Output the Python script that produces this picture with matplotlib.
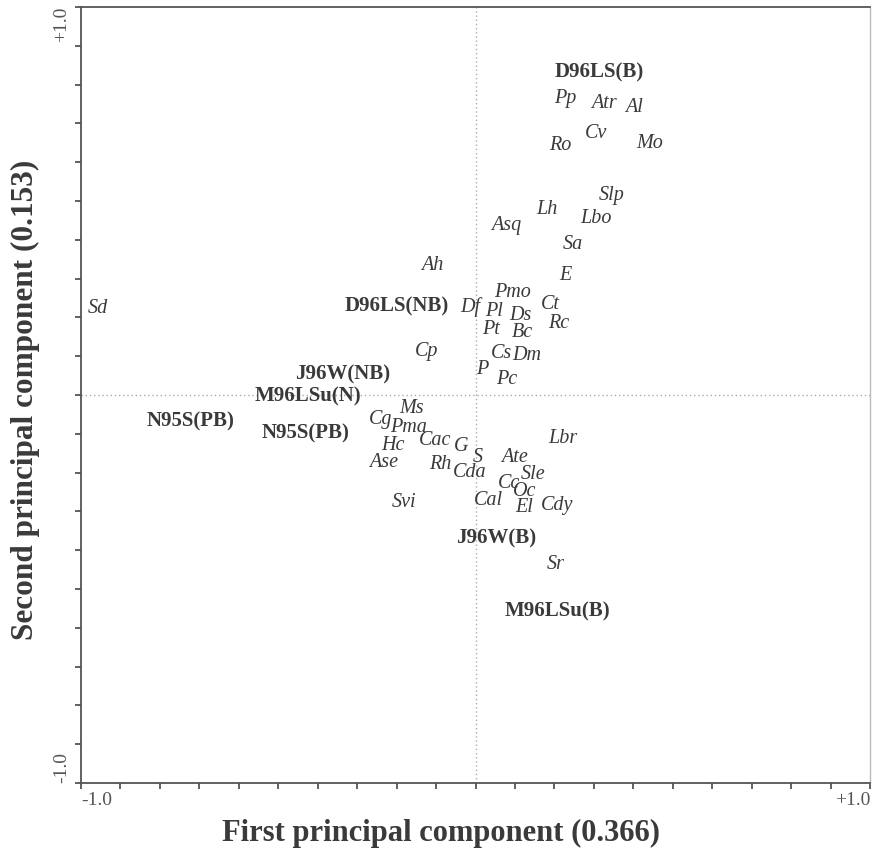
import matplotlib
matplotlib.use("Agg")
import matplotlib.pyplot as plt
import numpy as np

# Species (italic) scores on PC1 / PC2
species = ["Pp", "Atr", "Al", "Cv", "Ro", "Mo", "Slp", "Lh", "Lbo", "Asq", "Sa", "E",
           "Ah", "Pmo", "Df", "Pl", "Ds", "Ct", "Rc", "Pt", "Bc", "Cp", "Cs", "Dm",
           "P", "Pc", "Ms", "Cg", "Pma", "Hc", "Ase", "Cac", "G", "S", "Rh", "Cda",
           "Ate", "Lbr", "Sle", "Cc", "Oc", "Cal", "El", "Cdy", "Svi", "Sr", "Sd"]
species_x = [0.227, 0.326, 0.402, 0.306, 0.214, 0.442, 0.346, 0.181, 0.306, 0.077, 0.247, 0.227,
             -0.110, 0.095, -0.014, 0.047, 0.115, 0.191, 0.212, 0.039, 0.118, -0.123, 0.067, 0.131,
             0.016, 0.080, -0.163, -0.240, -0.169, -0.209, -0.232, -0.103, -0.037, 0.006, -0.090, -0.014,
             0.100, 0.222, 0.146, 0.085, 0.125, 0.034, 0.123, 0.207, -0.181, 0.204, -0.957]
species_y = [0.765, 0.750, 0.740, 0.673, 0.644, 0.649, 0.515, 0.477, 0.456, 0.438, 0.389, 0.307,
             0.335, 0.263, 0.227, 0.216, 0.206, 0.232, 0.183, 0.170, 0.162, 0.113, 0.106, 0.103,
             0.067, 0.039, -0.034, -0.064, -0.085, -0.131, -0.175, -0.116, -0.134, -0.162, -0.180, -0.201,
             -0.160, -0.111, -0.206, -0.227, -0.250, -0.271, -0.291, -0.284, -0.276, -0.436, 0.222]

# Sampling sites (bold) scores on PC1 / PC2
sites = ["D96LS(B)", "D96LS(NB)", "J96W(NB)", "M96LSu(N)", "N95S(PB)", "N95S(PB)",
         "J96W(B)", "M96LSu(B)"]
sites_x = [0.314, -0.199, -0.336, -0.425, -0.723, -0.432, 0.052, 0.207]
sites_y = [0.830, 0.227, 0.054, -0.005, -0.067, -0.098, -0.371, -0.557]

x_label = "First principal component (0.366)"
y_label = "Second principal component (0.153)"

plt.rcParams['font.family'] = ['Liberation Serif', 'DejaVu Serif']
TXT = "#3a3a3a"

fig = plt.figure(figsize=(8.72, 8.56), dpi=100)
ax = fig.add_axes([81/872, 73/856, 789/872, 776/856])
ax.set_xlim(-1, 1)
ax.set_ylim(-1, 1)

ax.axhline(0, color="#aaaaaa", lw=1, ls=(0, (1, 2)), zorder=0)
ax.axvline(0, color="#aaaaaa", lw=1, ls=(0, (1, 2)), zorder=0)

for n, x, y in zip(species, species_x, species_y):
    ax.text(x, y, n, fontsize=14.5, style="italic", color=TXT, ha="center", va="center")
for n, x, y in zip(sites, sites_x, sites_y):
    ax.text(x, y, n, fontsize=15, fontweight="bold", color=TXT, ha="center", va="center")

ticks = np.round(np.arange(-1, 1.0001, 0.1), 1)
ax.set_xticks(ticks)
ax.set_yticks(ticks)
ax.set_xticklabels([])
ax.set_yticklabels([])
ax.tick_params(direction="out", length=4, width=1.3, color="#555555")
for s in ["left", "bottom", "top"]:
    ax.spines[s].set_color("#555555")
    ax.spines[s].set_linewidth(1.3)
ax.spines["right"].set_color("#bbbbbb")
ax.spines["right"].set_linewidth(1.0)

ax.text(0.0, -0.012, "-1.0", transform=ax.transAxes, ha="left", va="top", fontsize=14, color="#555555")
ax.text(1.0, -0.012, "+1.0", transform=ax.transAxes, ha="right", va="top", fontsize=14, color="#555555")
ax.text(-0.014, 0.0, "-1.0", transform=ax.transAxes, ha="right", va="bottom", rotation=90, fontsize=14, color="#555555")
ax.text(-0.014, 1.0, "+1.0", transform=ax.transAxes, ha="right", va="top", rotation=90, fontsize=14, color="#555555")

fig.text(441/872, 1 - 833/856, x_label, ha="center", va="center", fontsize=22, fontweight="bold", color=TXT)
fig.text(25/872, 1 - 400/856, y_label, ha="center", va="center", rotation=90, fontsize=22.5, fontweight="bold", color=TXT)

fig.savefig("out.png", dpi=100, facecolor="white")
